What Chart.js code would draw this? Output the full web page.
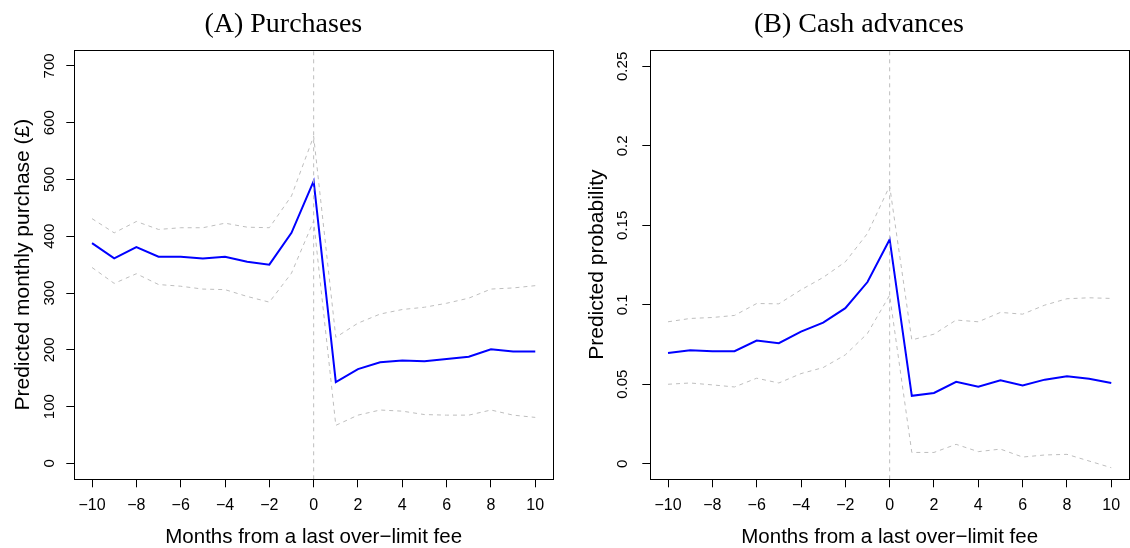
<!DOCTYPE html>
<html>
<head>
<meta charset="utf-8">
<script src="https://cdn.jsdelivr.net/npm/chart.js@4"></script>
<style>
    body { margin: 0; background: #fff; }
    canvas { position: absolute; top: 0; }
    #chartA { left: 0; }
    #chartB { left: 566px; }
</style>
</head>
<body>
<canvas id="chartA" width="566" height="548"></canvas>
<canvas id="chartB" width="564" height="548"></canvas>
<script>
// months relative to the last over-limit fee
const months = [-10, -9, -8, -7, -6, -5, -4, -3, -2, -1, 0, 1, 2, 3, 4, 5, 6, 7, 8, 9, 10];

// (A) purchases, £
const purchase      = [388, 361, 381, 364, 364, 361, 364, 355, 350, 406, 497, 143, 166, 178, 181, 180, 184, 188, 201, 197, 197];
const purchaseUpper = [431, 406, 426, 412, 415, 415, 423, 416, 415, 471, 576, 222, 247, 263, 271, 275, 282, 291, 307, 309, 313];
const purchaseLower = [345, 317, 334, 315, 312, 307, 306, 294, 284, 335, 427, 67, 85, 94, 92, 86, 85, 85, 94, 85, 81];

// (B) cash advances, probability
const cash      = [0.0697, 0.0714, 0.0708, 0.0708, 0.0775, 0.0758, 0.0831, 0.0888, 0.0979, 0.1143, 0.1411, 0.0427, 0.0445, 0.0515, 0.0485, 0.0525, 0.0492, 0.0529, 0.0550, 0.0534, 0.0508];
const cashUpper = [0.0893, 0.0914, 0.0920, 0.0933, 0.1008, 0.1006, 0.1094, 0.1172, 0.1270, 0.1449, 0.1747, 0.0779, 0.0815, 0.0904, 0.0893, 0.0952, 0.0941, 0.0998, 0.1038, 0.1044, 0.1040];
const cashLower = [0.0500, 0.0508, 0.0496, 0.0483, 0.0538, 0.0508, 0.0567, 0.0605, 0.0685, 0.0820, 0.1060, 0.0071, 0.0071, 0.0122, 0.0076, 0.0092, 0.0042, 0.0055, 0.0059, 0.0017, -0.0025];

// axes
const xTicks = [-10, -8, -6, -4, -2, 0, 2, 4, 6, 8, 10];
const xLabels = ["\u221210", "\u22128", "\u22126", "\u22124", "\u22122", "0", "2", "4", "6", "8", "10"];
const xRange = [-10.8, 10.8];
const refLineX = 0;

const yTicksA = [0, 100, 200, 300, 400, 500, 600, 700];
const yLabelsA = ["0", "100", "200", "300", "400", "500", "600", "700"];
const yRangeA = [-28, 728];

const yTicksB = [0, 0.05, 0.1, 0.15, 0.2, 0.25];
const yLabelsB = ["0", "0.05", "0.1", "0.15", "0.2", "0.25"];
const yRangeB = [-0.0098, 0.2603];

Chart.defaults.font.family = "'Liberation Sans', Arial, sans-serif";
Chart.defaults.color = "#000";

function pts(ys) {
    return months.map((m, i) => ({ x: m, y: ys[i] }));
}

// R style box round the plot region
const boxPlugin = {
    id: "box",
    afterDatasetsDraw(chart) {
        const a = chart.chartArea;
        const ctx = chart.ctx;
        ctx.save();
        ctx.strokeStyle = "#000";
        ctx.lineWidth = 1;
        ctx.strokeRect(Math.round(a.left) + 0.5, Math.round(a.top) + 0.5,
            Math.round(a.right - a.left), Math.round(a.bottom - a.top));
        ctx.restore();
    }
};

function dashed(data) {
    return {
        data: data,
        borderColor: "#bebebe",
        borderWidth: 1,
        borderDash: [4, 4],
        pointRadius: 0,
        tension: 0
    };
}

function panel(id, p) {
    return new Chart(document.getElementById(id), {
        type: "line",
        data: {
            datasets: [
                dashed([{ x: refLineX, y: p.yRange[0] }, { x: refLineX, y: p.yRange[1] }]),
                dashed(pts(p.upper)),
                dashed(pts(p.lower)),
                {
                    data: pts(p.mid),
                    borderColor: "#0000ff",
                    borderWidth: 2,
                    pointRadius: 0,
                    tension: 0
                }
            ]
        },
        options: {
            responsive: false,
            animation: false,
            events: [],
            layout: { padding: { left: p.padLeft, right: p.padRight, top: 0, bottom: 0 } },
            plugins: {
                legend: { display: false },
                tooltip: { enabled: false },
                title: {
                    display: true,
                    text: p.title,
                    font: { family: "'Liberation Serif', 'Times New Roman', serif", size: 28, weight: "normal" },
                    color: "#000",
                    padding: { top: 8.2, bottom: 8.2 }
                }
            },
            scales: {
                x: {
                    type: "linear",
                    min: xRange[0],
                    max: xRange[1],
                    afterBuildTicks: s => { s.ticks = xTicks.map(v => ({ value: v })); },
                    afterFit: s => { s.height = 68.7; },
                    ticks: {
                        padding: 8.8,
                        font: { size: 16 },
                        maxRotation: 0,
                        callback: (v, i) => xLabels[i]
                    },
                    grid: { drawOnChartArea: false, tickLength: 8, tickColor: "#000", lineWidth: 1 },
                    border: { display: false },
                    title: {
                        display: true,
                        text: "Months from a last over\u2212limit fee",
                        font: { size: 20.5, lineHeight: 1 },
                        padding: { top: 0, bottom: 0.9 }
                    }
                },
                y: {
                    type: "linear",
                    min: p.yRange[0],
                    max: p.yRange[1],
                    afterBuildTicks: s => { s.ticks = p.yTicks.map(v => ({ value: v })); },
                    afterFit: s => { s.width = p.yAxisWidth; },
                    ticks: {
                        minRotation: 90,
                        maxRotation: 90,
                        crossAlign: "center",
                        padding: p.tickPad,
                        font: { size: 15 },
                        callback: (v, i) => p.yLabels[i]
                    },
                    grid: { drawOnChartArea: false, tickLength: 8, tickColor: "#000", lineWidth: 1 },
                    border: { display: false },
                    title: {
                        display: true,
                        text: p.yTitle,
                        font: { size: 21, lineHeight: 1 },
                        padding: { top: p.titlePad, bottom: 0 }
                    }
                }
            }
        },
        plugins: [boxPlugin]
    });
}

panel("chartA", {
    title: "(A) Purchases",
    yTitle: "Predicted monthly purchase (\u00a3)",
    mid: purchase, upper: purchaseUpper, lower: purchaseLower,
    yTicks: yTicksA, yLabels: yLabelsA, yRange: yRangeA,
    padLeft: 13.6, padRight: 13, yAxisWidth: 60.7, tickPad: 3.8, titlePad: -1.1
});

panel("chartB", {
    title: "(B) Cash advances",
    yTitle: "Predicted probability",
    mid: cash, upper: cashUpper, lower: cashLower,
    yTicks: yTicksB, yLabels: yLabelsB, yRange: yRangeB,
    padLeft: 23, padRight: 1, yAxisWidth: 61.3, tickPad: 4.7, titlePad: -2.2
});
</script>
</body>
</html>
